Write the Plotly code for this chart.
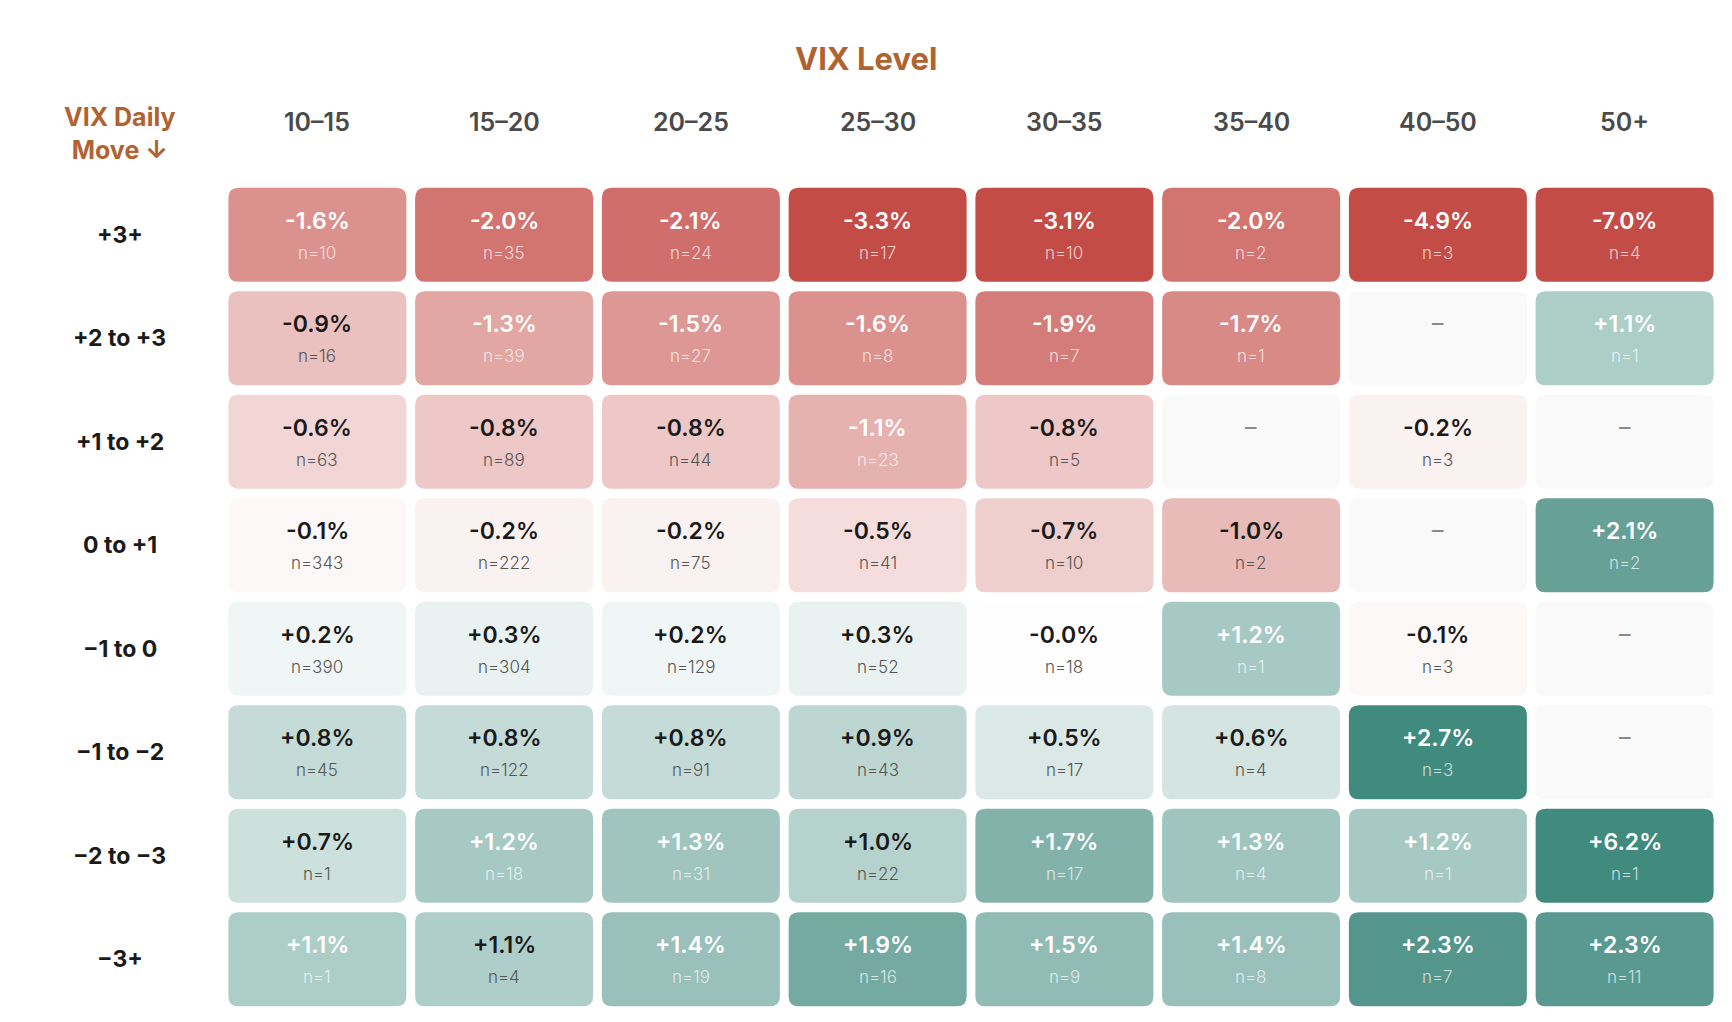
import plotly.graph_objects as go

# ---------------- data ----------------
col_labels = ["10–15", "15–20", "20–25", "25–30", "30–35", "35–40", "40–50", "50+"]
row_labels = ["+3+", "+2 to +3", "+1 to +2", "0 to +1", "−1 to 0", "−1 to −2", "−2 to −3", "−3+"]

# mean return (%) per cell; None = no observations
values = [
    [-1.6, -2.0, -2.1, -3.3, -3.1, -2.0, -4.9, -7.0],
    [-0.9, -1.3, -1.5, -1.6, -1.9, -1.7, None, 1.12],
    [-0.6, -0.8, -0.8, -1.12, -0.8, None, -0.2, None],
    [-0.1, -0.2, -0.2, -0.5, -0.7, -1.0, None, 2.1],
    [0.2, 0.3, 0.2, 0.3, -0.02, 1.2, -0.1, None],
    [0.8, 0.8, 0.8, 0.9, 0.5, 0.6, 2.7, None],
    [0.7, 1.2, 1.3, 1.0, 1.7, 1.3, 1.2, 6.2],
    [1.12, 1.08, 1.4, 1.9, 1.5, 1.4, 2.34, 2.26],
]
counts = [
    [10, 35, 24, 17, 10, 2, 3, 4],
    [16, 39, 27, 8, 7, 1, None, 1],
    [63, 89, 44, 23, 5, None, 3, None],
    [343, 222, 75, 41, 10, 2, None, 2],
    [390, 304, 129, 52, 18, 1, 3, None],
    [45, 122, 91, 43, 17, 4, 3, None],
    [1, 18, 31, 22, 17, 4, 1, 1],
    [1, 4, 19, 16, 9, 8, 7, 11],
]

title_text = "VIX Level"
corner_text = "VIX Daily<br>Move ↓"

# ---------------- styles ----------------
FONT = "Inter, 'Noto Sans', sans-serif"
ACCENT = "#B0622F"
RED = (196, 76, 71)
GREEN = (65, 138, 126)
CAP = 2.6
EMPTY_FILL = "#F9F9F9"

W, H = 1732, 1022
ML, MR, MT, MB = 224, 14, 183, 11
PW = W - ML - MR
PH = H - MT - MB
ncol, nrow = len(col_labels), len(row_labels)
ux = PW / ncol  # px per x unit
uy = PH / nrow  # px per y unit
half_w = 89 / ux
half_h = 47 / uy
rx = 10 / ux
ry = 10 / uy


def cell_color(v):
    if v is None:
        return EMPTY_FILL
    t = min(abs(v) / CAP, 1.0)
    base = GREEN if v > 0 else RED
    r, g, b = (round(255 * (1 - t) + c * t) for c in base)
    return f"rgb({r},{g},{b})"


def rounded_path(x0, y0, x1, y1):
    return (
        f"M {x0 + rx},{y0} L {x1 - rx},{y0} Q {x1},{y0} {x1},{y0 + ry} "
        f"L {x1},{y1 - ry} Q {x1},{y1} {x1 - rx},{y1} "
        f"L {x0 + rx},{y1} Q {x0},{y1} {x0},{y1 - ry} "
        f"L {x0},{y0 + ry} Q {x0},{y0} {x0 + rx},{y0} Z"
    )


fig = go.Figure()

# invisible hover trace over cells
hx, hy, htxt = [], [], []
for j in range(nrow):
    for i in range(ncol):
        hx.append(i)
        hy.append(j)
        v = values[j][i]
        htxt.append(
            f"{row_labels[j]} / {col_labels[i]}: "
            + ("no data" if v is None else f"{v:+.1f}% (n={counts[j][i]})")
        )
fig.add_trace(go.Scatter(x=hx, y=hy, mode="markers", marker=dict(size=40, opacity=0),
                         hovertext=htxt, hoverinfo="text", showlegend=False))

shapes = []
annotations = []
for j in range(nrow):
    for i in range(ncol):
        v = values[j][i]
        n = counts[j][i]
        shapes.append(dict(
            type="path", xref="x", yref="y",
            path=rounded_path(i - half_w, j - half_h, i + half_w, j + half_h),
            fillcolor=cell_color(v), line=dict(width=0), layer="below",
        ))
        if v is None:
            annotations.append(dict(x=i, y=j, xref="x", yref="y", text="–", showarrow=False,
                                    yshift=15, font=dict(family=FONT, size=23, color="#8a8a8a")))
            continue
        light = abs(v) >= 1.1
        vcol = "#ffffff" if light else "#1a1a1a"
        ncolr = "rgba(255,255,255,0.72)" if light else "#555555"
        annotations.append(dict(x=i, y=j, xref="x", yref="y", text=f"{v:+.1f}%",
                                showarrow=False, yshift=14,
                                font=dict(family=FONT, size=23, color=vcol, weight=600)))
        annotations.append(dict(x=i, y=j, xref="x", yref="y", text=f"n={n}",
                                showarrow=False, yshift=-18,
                                font=dict(family=FONT, size=17, color=ncolr, weight=300)))

# column headers
for i, lab in enumerate(col_labels):
    annotations.append(dict(x=i, y=(H - MB - 122) / PH, xref="x", yref="paper", text=lab,
                            showarrow=False, yanchor="middle", xanchor="center",
                            font=dict(family=FONT, size=25, color="#4a4a4a", weight=600)))
# row labels
for j, lab in enumerate(row_labels):
    annotations.append(dict(x=(120 - ML) / PW, y=j, xref="paper", yref="y", text=lab,
                            showarrow=False, xanchor="center",
                            font=dict(family=FONT, size=23, color="#1a1a1a", weight=700)))
# title & corner label
annotations.append(dict(x=(866 - ML) / PW, y=(H - MB - 58) / PH, xref="paper", yref="paper",
                        text=title_text, showarrow=False, yanchor="middle", xanchor="center",
                        font=dict(family=FONT, size=31, color=ACCENT, weight=700)))
annotations.append(dict(x=(120 - ML) / PW, y=(H - MB - 134) / PH, xref="paper", yref="paper",
                        text=corner_text, showarrow=False, yanchor="middle", xanchor="center",
                        font=dict(family=FONT, size=25, color=ACCENT, weight=700)))

fig.update_layout(
    width=W, height=H, autosize=False,
    margin=dict(l=ML, r=MR, t=MT, b=MB, pad=0),
    paper_bgcolor="white", plot_bgcolor="white",
    xaxis=dict(range=[-0.5, ncol - 0.5], visible=False, fixedrange=True),
    yaxis=dict(range=[nrow - 0.5, -0.5], visible=False, fixedrange=True),
    shapes=shapes, annotations=annotations, showlegend=False,
    font=dict(family=FONT),
)

fig.write_html("out.html", config={"displayModeBar": False},
               post_script="document.body.style.margin='0';")
